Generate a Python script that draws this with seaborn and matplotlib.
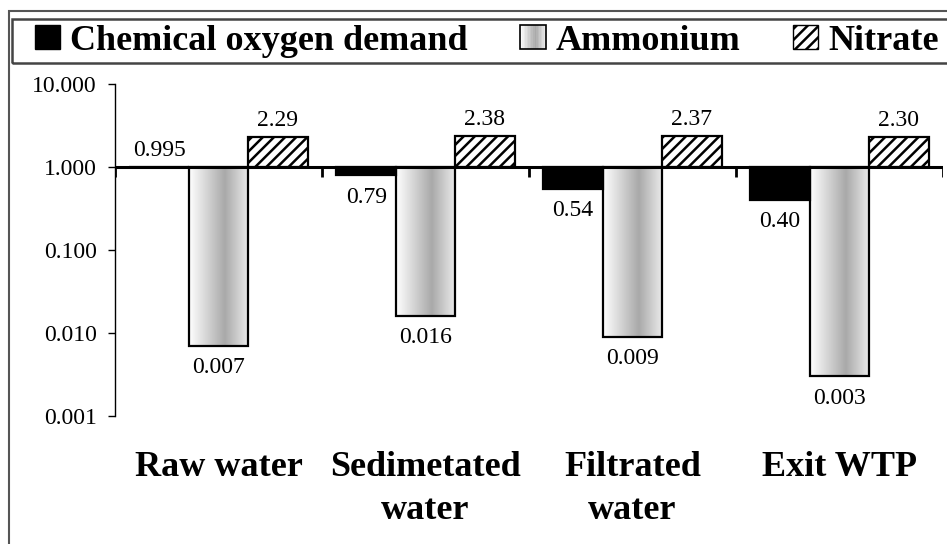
import numpy as np
import pandas as pd
import matplotlib
matplotlib.use('Agg')
import matplotlib.pyplot as plt
import seaborn as sns
from matplotlib.patches import Patch, Rectangle
from matplotlib.colors import LinearSegmentedColormap
from matplotlib.legend_handler import HandlerBase

# data
stages = ['Raw water', 'Sedimetated\nwater', 'Filtrated\nwater', 'Exit WTP']
cod = [0.995, 0.79, 0.54, 0.40]
ammonium = [0.007, 0.016, 0.009, 0.003]
nitrate = [2.29, 2.38, 2.37, 2.30]
params = ['Chemical oxygen demand', 'Ammonium', 'Nitrate']
tick_values = [0.001, 0.01, 0.1, 1, 10]

sns.set_theme(style='white')
plt.rcParams['font.family'] = ['Liberation Serif', 'DejaVu Serif']
plt.rcParams['hatch.linewidth'] = 1.8
plt.rcParams['text.color'] = 'black'
plt.rcParams['xtick.color'] = 'black'
plt.rcParams['ytick.color'] = 'black'
plt.rcParams['axes.labelcolor'] = 'black'

df = pd.DataFrame({'stage': stages * 3,
                   'param': [p for p in params for _ in stages],
                   'value': cod + ammonium + nitrate})
df['log_value'] = np.log10(df['value'])

grad_cmap = LinearSegmentedColormap.from_list(
    'amm', [(0, '#ffffff'), (0.6, '#a9a9a9'), (1, '#ececec')])

fig = plt.figure(figsize=(9.47, 5.44), dpi=100)
ax = fig.add_axes([115 / 947, 1 - 416 / 544, 828 / 947, 332 / 544])

sns.barplot(data=df, x='stage', y='log_value', hue='param', hue_order=params,
            order=stages, palette=['black', 'white', 'white'], width=0.86,
            edgecolor='black', linewidth=1.6, errorbar=None, legend=False, ax=ax)

cod_bars, amm_bars, nit_bars = ax.containers[:3]
for bar in nit_bars:
    bar.set_hatch('///')
grad = np.linspace(0, 1, 200)[np.newaxis, :]
for bar in amm_bars:
    bar.set_facecolor('none')
    x0, y0 = bar.get_x(), bar.get_y()
    w, h = bar.get_width(), bar.get_height()
    im = ax.imshow(grad, cmap=grad_cmap, extent=(x0, x0 + w, y0 + h, y0),
                   aspect='auto', zorder=bar.get_zorder() - 0.05)
    im.set_clip_path(bar)

# value labels
for cont, vals in zip([cod_bars, amm_bars, nit_bars], [cod, ammonium, nitrate]):
    for bar, v in zip(cont, vals):
        xc = bar.get_x() + bar.get_width() / 2
        txt = f'{v:.3f}' if v < 0.02 or v == 0.995 else f'{v:.2f}'
        if v > 0.99:
            ax.annotate(txt, (xc, max(bar.get_y() + bar.get_height(), 0)),
                        xytext=(0, 8), textcoords='offset points',
                        ha='center', va='baseline', fontsize=17)
        else:
            ax.annotate(txt, (xc, bar.get_y() + bar.get_height()),
                        xytext=(0, -8), textcoords='offset points',
                        ha='center', va='top', fontsize=17)

ax.set_xlim(-0.5, len(stages) - 0.5)
ax.set_ylim(np.log10(tick_values[0]), np.log10(tick_values[-1]))

# baseline at 1.0 with group boundary ticks
ax.axhline(0, color='black', lw=2.2, zorder=4)
bounds = np.arange(len(stages) + 1) - 0.5
ax.vlines(bounds, -0.12, 0, color='black', lw=2, zorder=4)

ax.set_yticks(np.log10(tick_values), labels=[f'{v:.3f}' for v in tick_values])
ax.tick_params(axis='y', left=True, length=5, width=1, pad=8, labelsize=17, color='black')
ax.set_xticks(range(len(stages)), labels=stages)
ax.tick_params(axis='x', bottom=False, length=0, pad=25, labelsize=26)
for lab in ax.get_xticklabels():
    lab.set_fontweight('bold')
    lab.set_linespacing(1.4)
ax.set_xlabel('')
ax.set_ylabel('')
for s in ['top', 'right', 'bottom']:
    ax.spines[s].set_visible(False)
ax.spines['left'].set_color('black')
ax.spines['left'].set_linewidth(1)


class GradientHandler(HandlerBase):
    def create_artists(self, legend, orig_handle, xdescent, ydescent, width, height, fontsize, trans):
        n = 16
        arts = []
        for i in range(n):
            arts.append(Rectangle((-xdescent + width * i / n, -ydescent), width / n, height,
                                  facecolor=grad_cmap((i + 0.5) / n), edgecolor='none', transform=trans))
        arts.append(Rectangle((-xdescent, -ydescent), width, height, facecolor='none',
                              edgecolor='black', lw=1.2, transform=trans))
        return arts


class GradKey:
    pass


handles = [Patch(facecolor='black', edgecolor='black'),
           GradKey(),
           Patch(facecolor='white', edgecolor='black', hatch='///')]
fig.legend(handles, params, handler_map={GradKey: GradientHandler()},
           loc='center left', bbox_to_anchor=(35 / 947, 1 - 41 / 544), ncol=3,
           frameon=False, borderpad=0, borderaxespad=0, handlelength=0.7,
           handleheight=0.65, handletextpad=0.28, columnspacing=1.45,
           prop={'weight': 'bold', 'size': 26})

# outer frame and legend box (cropped on the right in the original)
fig.add_artist(Rectangle((9 / 947, -0.1), 1.2, 1.1 - 11 / 544, transform=fig.transFigure,
                         fill=False, edgecolor='#555555', lw=1.5))
fig.add_artist(Rectangle((12 / 947, 1 - 63 / 544), 1.2, 44 / 544, transform=fig.transFigure,
                         fill=False, edgecolor='#444444', lw=1.8))

fig.savefig('out.png', dpi=100)
